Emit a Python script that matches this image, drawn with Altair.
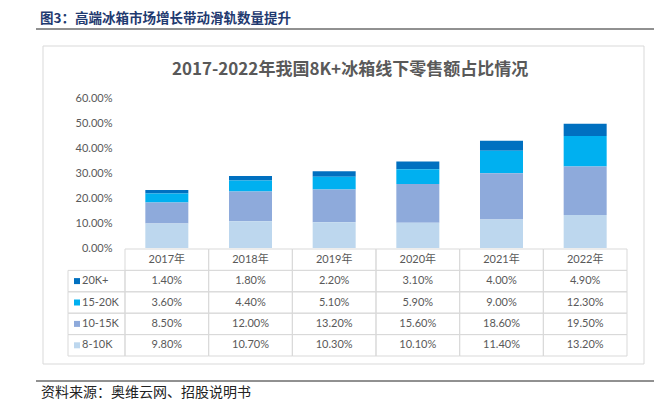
import altair as alt
import pandas as pd

# ---- data ----
years = ["2017年", "2018年", "2019年", "2020年", "2021年", "2022年"]
series = ["20K+", "15-20K", "10-15K", "8-10K"]
v_20k = [1.4, 1.8, 2.2, 3.1, 4.0, 4.9]
v_15_20k = [3.6, 4.4, 5.1, 5.9, 9.0, 12.3]
v_10_15k = [8.5, 12.0, 13.2, 15.6, 18.6, 19.5]
v_8_10k = [9.8, 10.7, 10.3, 10.1, 11.4, 13.2]
y_ticks = [0, 10, 20, 30, 40, 50, 60]
colors = ["#0070c0", "#00b0f0", "#8eaadb", "#bdd7ee"]

main_title = "图3：高端冰箱市场增长带动滑轨数量提升"
chart_title = "2017-2022年我国8K+冰箱线下零售额占比情况"
source = "资料来源：奥维云网、招股说明书"

values = {"20K+": v_20k, "15-20K": v_15_20k, "10-15K": v_10_15k, "8-10K": v_8_10k}
stack_order = {"8-10K": 0, "10-15K": 1, "15-20K": 2, "20K+": 3}

rows = []
for s in series:
    for y, v in zip(years, values[s]):
        rows.append({"year": y, "series": s, "value": v, "ord": stack_order[s]})
df = pd.DataFrame(rows)

table_rows = ["hdr"] + series
hdr = pd.DataFrame({"year": years, "row": ["hdr"] * len(years), "label": years})
body = df.rename(columns={"series": "row"}).copy()
body["label"] = [f"{v:.2f}%" for v in body["value"]]
cells = pd.concat([hdr, body[["year", "row", "label"]]], ignore_index=True)
leg = pd.DataFrame({"row": series, "series": series})
one = pd.DataFrame({"a": [0]})

FONT = "Lato, Noto Sans CJK SC"
TXT = "#595959"
GRID = "#d9d9d9"

x_band = alt.Scale(domain=years, range=[117, 619], paddingInner=0, paddingOuter=0)
y_band = alt.Scale(domain=table_rows, range=[241, 348], paddingInner=0, paddingOuter=0)
color_scale = alt.Scale(domain=series, range=colors)

box = alt.Chart(one).mark_rect(fill="white", stroke=GRID, strokeWidth=1).encode(
    x=alt.value(35), x2=alt.value(636), y=alt.value(38), y2=alt.value(356)
)
top_line = alt.Chart(one).mark_rule(color="#222", strokeWidth=1).encode(
    x=alt.value(28), x2=alt.value(646), y=alt.value(21)
)
bottom_line = alt.Chart(one).mark_rule(color="#222", strokeWidth=1).encode(
    x=alt.value(28), x2=alt.value(646), y=alt.value(373)
)
head = alt.Chart(one).mark_text(
    text=main_title, align="left", baseline="middle", font="Noto Sans CJK SC",
    fontWeight="bold", fontSize=13.5, color="#1f3a70"
).encode(x=alt.value(32), y=alt.value(11))
src = alt.Chart(one).mark_text(
    text=source, align="left", baseline="middle", font="Noto Sans CJK SC",
    fontSize=14, color="#222"
).encode(x=alt.value(33), y=alt.value(385))
ctitle = alt.Chart(one).mark_text(
    text=chart_title, align="center", baseline="middle", font="Noto Sans CJK SC",
    fontWeight="bold", fontSize=17, color=TXT
).encode(x=alt.value(342), y=alt.value(62))

bars = alt.Chart(df).mark_bar().encode(
    x=alt.X("year:N", sort=years,
            scale=alt.Scale(domain=years, range=[117, 619], paddingInner=0.486, paddingOuter=0.243),
            axis=None),
    y=alt.Y("value:Q", stack="zero",
            scale=alt.Scale(domain=[0, 60], range=[240, 90.5], nice=False),
            axis=alt.Axis(values=y_ticks, labelExpr="format(datum.value, '.2f') + '%'",
                          domain=False, ticks=False, tickSize=0, grid=False, offset=-106,
                          labelPadding=2, labelFont=FONT, labelFontSize=11, labelColor=TXT,
                          title=None, zindex=2)),
    color=alt.Color("series:N", scale=color_scale, legend=None),
    order=alt.Order("ord:Q"),
)

cell_rects = alt.Chart(cells).mark_rect(fill="white", fillOpacity=0, stroke=GRID, strokeWidth=1).encode(
    x=alt.X("year:N", scale=x_band, axis=None),
    y=alt.Y("row:N", scale=y_band, axis=None),
)
cell_text = alt.Chart(cells).mark_text(font=FONT, fontSize=11, color=TXT, baseline="middle").encode(
    x=alt.X("year:N", scale=x_band, axis=None),
    y=alt.Y("row:N", scale=y_band, axis=None),
    text="label:N",
)
leg_rects = alt.Chart(leg).mark_rect(fill="white", fillOpacity=0, stroke=GRID, strokeWidth=1).encode(
    x=alt.value(60), x2=alt.value(117),
    y=alt.Y("row:N", scale=y_band, axis=None),
)
leg_sq = alt.Chart(leg).mark_square(size=36, opacity=1).encode(
    x=alt.value(69),
    y=alt.Y("row:N", scale=y_band, axis=None),
    color=alt.Color("series:N", scale=color_scale, legend=None),
)
leg_text = alt.Chart(leg).mark_text(align="left", baseline="middle", font=FONT, fontSize=11, color=TXT).encode(
    x=alt.value(74),
    y=alt.Y("row:N", scale=y_band, axis=None),
    text="series:N",
)

chart = alt.layer(
    box, top_line, bottom_line, head, src, ctitle, bars,
    cell_rects, cell_text, leg_rects, leg_sq, leg_text
).resolve_scale(x="independent", y="independent").properties(
    width=647, height=396, autosize=alt.AutoSizeParams(type="none"), padding=0,
    background="white"
).configure_view(strokeWidth=0)

chart.save("out.html", embed_options={"renderer": "svg", "actions": False})
